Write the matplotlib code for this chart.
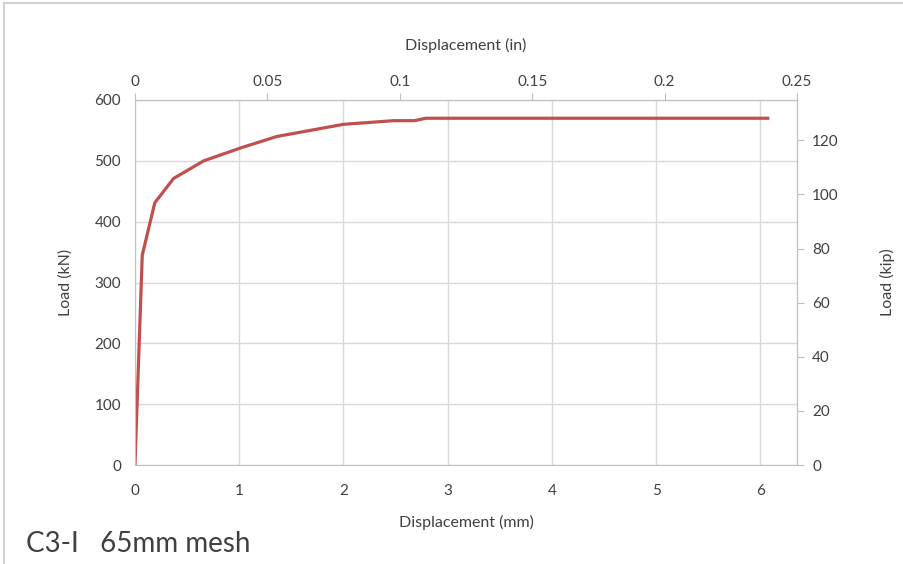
import matplotlib.pyplot as plt
from matplotlib.patches import Rectangle

# load-displacement curve
disp_mm = [0.0, 0.07, 0.19, 0.37, 0.66, 1.01, 1.36, 2.0, 2.48, 2.68, 2.79, 6.07]
load_kn = [0, 345, 431, 471, 500, 521, 540, 560, 566, 566, 570, 570]

x_ticks = [0, 1, 2, 3, 4, 5, 6]
y_ticks = [0, 100, 200, 300, 400, 500, 600]
in_ticks = [0, 0.05, 0.1, 0.15, 0.2, 0.25]
kip_ticks = [0, 20, 40, 60, 80, 100, 120]

plt.rcParams['font.family'] = ['Lato', 'DejaVu Sans']
txt = '#404040'
grid_c = '#d9d9d9'
spine_c = '#bfbfbf'

fig = plt.figure(figsize=(9.04, 5.64), dpi=100)
ax = fig.add_axes([0.1493, 0.1755, 0.8816 - 0.1493, 0.8227 - 0.1755])

ax.plot(disp_mm, load_kn, color='#C0504D', lw=2.3, solid_joinstyle='round')

ax.set_xlim(0, 6.35)
ax.set_ylim(0, 600)
ax.set_xticks(x_ticks)
ax.set_yticks(y_ticks)
ax.grid(True, color=grid_c, lw=1)
ax.tick_params(colors=txt, labelsize=11, length=0)
ax.tick_params(axis='x', pad=14)
ax.tick_params(axis='y', pad=10)
for sp in ax.spines.values():
    sp.set_color(spine_c)
ax.set_xlabel('Displacement (mm)', fontsize=11.5, color=txt, labelpad=12)
ax.set_ylabel('Load (kN)', fontsize=11.5, color=txt, labelpad=16)

top = ax.secondary_xaxis('top', functions=(lambda v: v / 25.4, lambda v: v * 25.4))
top.set_xticks(in_ticks)
top.set_xticklabels(['0', '0.05', '0.1', '0.15', '0.2', '0.25'])
top.tick_params(colors=spine_c, labelcolor=txt, labelsize=11, length=5, direction='out', pad=3)
top.spines['top'].set_color(spine_c)
top.set_xlabel('Displacement (in)', fontsize=11.5, color=txt, labelpad=18)

right = ax.secondary_yaxis('right', functions=(lambda v: v / 4.448, lambda v: v * 4.448))
right.set_yticks(kip_ticks)
right.tick_params(colors=spine_c, labelcolor=txt, labelsize=11, length=5, direction='out', pad=6)
right.spines['right'].set_color(spine_c)
# right axis title sits at the very edge of the chart
fig.text(0.982, 0.5, 'Load (kip)', fontsize=11.5, color=txt, rotation=90,
         ha='center', va='center')

fig.text(0.029, 0.022, 'C3-I   65mm mesh', fontsize=20, color=txt)

# outer chart frame
fig.patches.append(Rectangle((4 / 904, -0.1), 1.0, 1.1 - 3 / 564, transform=fig.transFigure,
                             fill=False, edgecolor='#d0d0d0', lw=1.5))

fig.savefig('out.png', dpi=100)
